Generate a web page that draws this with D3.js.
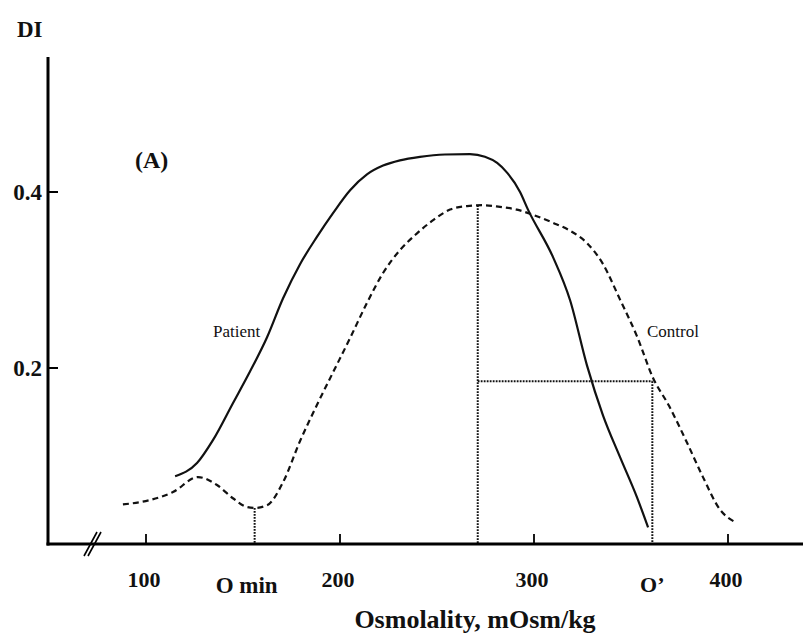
<!DOCTYPE html>
<html>
<head>
<meta charset="utf-8">
<script src="https://cdn.jsdelivr.net/npm/d3@7"></script>
<style>
  html, body { margin: 0; padding: 0; background: #fff; }
  svg { display: block; }
  text { font-family: "Liberation Serif", "Times New Roman", serif; fill: #111; }
</style>
</head>
<body>
<script>
// ---- data ----
const patientX = [115, 126.3, 134.5, 144.8, 153.6, 162.4, 170.6, 179.4, 188.1, 196.4, 205.2, 213.9, 222.2, 230.9, 241.2, 254.1, 267, 274.7, 281, 286.1, 292.8, 296.9, 309.8, 318.6, 327.3, 335.6, 344.3, 353.1, 358.8];
const patientY = [0.077, 0.092, 0.118, 0.160, 0.196, 0.235, 0.279, 0.318, 0.349, 0.376, 0.402, 0.420, 0.430, 0.436, 0.440, 0.4426, 0.443, 0.440, 0.433, 0.422, 0.400, 0.380, 0.326, 0.277, 0.203, 0.146, 0.099, 0.053, 0.019];
const controlX = [88.1, 102.1, 113.9, 126.8, 136.6, 144.8, 152.1, 156.2, 162.4, 170.6, 179.4, 188.1, 196.4, 205.2, 213.9, 222.2, 230.9, 239.7, 248, 256.7, 265.5, 273.7, 282.5, 291.2, 299.5, 309.8, 318.6, 327.3, 335.6, 344.3, 353.1, 361.3, 369.6, 378.9, 387.1, 395.9, 403.6];
const controlY = [0.045, 0.050, 0.059, 0.076, 0.067, 0.052, 0.042, 0.041, 0.044, 0.070, 0.117, 0.158, 0.195, 0.234, 0.274, 0.308, 0.334, 0.353, 0.368, 0.380, 0.384, 0.385, 0.383, 0.380, 0.374, 0.365, 0.356, 0.342, 0.318, 0.278, 0.236, 0.189, 0.157, 0.115, 0.076, 0.039, 0.025];
const xTicks = [100, 200, 300, 400];
const yTicks = [0.2, 0.4];
const yTickLabels = ["0.2", "0.4"];
const markerX = [156, 271, 361];          // O min, control peak, O'
const markerLabels = ["O min", "O\u2019"];
const oMinDI = 0.041, peakDI = 0.385, halfDI = 0.185;

// ---- layout ----
const W = 803, H = 637;
const svg = d3.select("body").append("svg").attr("width", W).attr("height", H);

const x = d3.scaleLinear().domain([100, 400]).range([146, 728]);
const y = d3.scaleLinear().domain([0, 0.4]).range([544, 192]);
const axisLeftX = 48, axisTopY = 57, axisRightX = 803;

// curves
const line = d3.line().x((d) => x(d[0])).y((d) => y(d[1])).curve(d3.curveMonotoneX);
const patient = patientX.map((v, i) => [v, patientY[i]]);
const control = controlX.map((v, i) => [v, controlY[i]]);

// dotted helper lines
const dot = svg.append("g").attr("stroke", "#111").attr("stroke-width", 2)
  .attr("stroke-dasharray", "1.8,1.2").attr("fill", "none");
dot.append("line").attr("x1", x(markerX[0])).attr("x2", x(markerX[0])).attr("y1", y(oMinDI)).attr("y2", y(0));
dot.append("line").attr("x1", x(markerX[1])).attr("x2", x(markerX[1])).attr("y1", y(peakDI)).attr("y2", y(0));
dot.append("line").attr("x1", x(markerX[1])).attr("x2", x(markerX[2])).attr("y1", y(halfDI)).attr("y2", y(halfDI));
dot.append("line").attr("x1", x(markerX[2])).attr("x2", x(markerX[2])).attr("y1", y(halfDI)).attr("y2", y(0));

svg.append("path").datum(control).attr("d", line).attr("fill", "none")
  .attr("stroke", "#111").attr("stroke-width", 2.2).attr("stroke-dasharray", "6,4");
svg.append("path").datum(patient).attr("d", line).attr("fill", "none")
  .attr("stroke", "#111").attr("stroke-width", 2.2);

// axes
const ax = svg.append("g").attr("stroke", "#000");
ax.append("line").attr("x1", axisLeftX).attr("x2", axisLeftX).attr("y1", axisTopY).attr("y2", y(0) + 1.5).attr("stroke-width", 3);
ax.append("line").attr("x1", axisLeftX - 1.5).attr("x2", axisRightX).attr("y1", y(0)).attr("y2", y(0)).attr("stroke-width", 3);
// break mark
ax.append("line").attr("x1", 84).attr("y1", 556).attr("x2", 97).attr("y2", 532).attr("stroke-width", 1.6);
ax.append("line").attr("x1", 88).attr("y1", 556).attr("x2", 101).attr("y2", 532).attr("stroke-width", 1.6);

// ticks
ax.selectAll(".xt").data(xTicks).enter().append("line")
  .attr("x1", (d) => x(d)).attr("x2", (d) => x(d)).attr("y1", y(0)).attr("y2", y(0) - 10).attr("stroke-width", 1.8);
ax.selectAll(".yt").data(yTicks).enter().append("line")
  .attr("x1", axisLeftX).attr("x2", axisLeftX + 10).attr("y1", (d) => y(d)).attr("y2", (d) => y(d)).attr("stroke-width", 2);

// tick labels
svg.selectAll(".xl").data(xTicks).enter().append("text")
  .attr("x", (d) => x(d) - 2).attr("y", 587).attr("text-anchor", "middle")
  .attr("font-size", 22).attr("font-weight", "bold").text((d) => d);
svg.selectAll(".yl").data(yTicks).enter().append("text")
  .attr("x", 42).attr("y", (d) => y(d) + 8).attr("text-anchor", "end")
  .attr("font-size", 23).attr("font-weight", "bold").text((d, i) => yTickLabels[i]);

// marker labels
svg.append("text").attr("x", x(markerX[0]) - 8).attr("y", 593).attr("text-anchor", "middle")
  .attr("font-size", 23).attr("font-weight", "bold").text(markerLabels[0]);
svg.append("text").attr("x", x(markerX[2])).attr("y", 592).attr("text-anchor", "middle")
  .attr("font-size", 22).attr("font-weight", "bold").text(markerLabels[1]);

// titles
svg.append("text").attr("x", 475).attr("y", 628).attr("text-anchor", "middle")
  .attr("font-size", 26).attr("font-weight", "bold").text("Osmolality, mOsm/kg");
svg.append("text").attr("x", 17).attr("y", 37)
  .attr("font-size", 23).attr("font-weight", "bold").text("DI");
svg.append("text").attr("x", 135).attr("y", 168)
  .attr("font-size", 24).attr("font-weight", "bold").text("(A)");

// series labels
svg.append("text").attr("x", 213).attr("y", 337).attr("font-size", 17).text("Patient");
svg.append("text").attr("x", 647).attr("y", 337).attr("font-size", 17).text("Control");
</script>
</body>
</html>
